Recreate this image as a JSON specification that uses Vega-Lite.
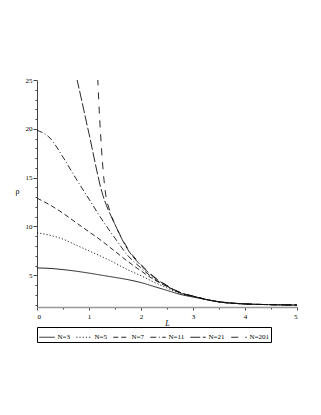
{
  "$schema": "https://vega.github.io/schema/vega-lite/v6.json",
  "autosize": {"type": "none"},
  "padding": {"left": 37, "top": 80, "right": 24, "bottom": 108},
  "width": 260,
  "height": 227,
  "background": "white",
  "config": {
    "view": {"stroke": null},
    "font": "Liberation Serif"
  },
  "data": {
    "values": [
      {"N": "N=3", "L": 0, "rho": 5.75},
      {"N": "N=3", "L": 0.25, "rho": 5.7},
      {"N": "N=3", "L": 0.5, "rho": 5.58},
      {"N": "N=3", "L": 0.75, "rho": 5.42},
      {"N": "N=3", "L": 1, "rho": 5.22},
      {"N": "N=3", "L": 1.25, "rho": 5.0},
      {"N": "N=3", "L": 1.5, "rho": 4.78},
      {"N": "N=3", "L": 1.75, "rho": 4.55},
      {"N": "N=3", "L": 2, "rho": 4.25},
      {"N": "N=3", "L": 2.25, "rho": 3.85},
      {"N": "N=3", "L": 2.5, "rho": 3.45},
      {"N": "N=3", "L": 2.75, "rho": 3.05},
      {"N": "N=3", "L": 3, "rho": 2.77},
      {"N": "N=3", "L": 3.5, "rho": 2.3},
      {"N": "N=3", "L": 4, "rho": 2.07},
      {"N": "N=3", "L": 4.5, "rho": 1.99},
      {"N": "N=3", "L": 5, "rho": 1.95},

      {"N": "N=5", "L": 0, "rho": 9.35},
      {"N": "N=5", "L": 0.25, "rho": 9.1},
      {"N": "N=5", "L": 0.5, "rho": 8.7},
      {"N": "N=5", "L": 0.75, "rho": 8.1},
      {"N": "N=5", "L": 1, "rho": 7.5},
      {"N": "N=5", "L": 1.25, "rho": 6.9},
      {"N": "N=5", "L": 1.5, "rho": 6.25},
      {"N": "N=5", "L": 1.75, "rho": 5.55},
      {"N": "N=5", "L": 2, "rho": 4.95},
      {"N": "N=5", "L": 2.25, "rho": 4.3},
      {"N": "N=5", "L": 2.5, "rho": 3.7},
      {"N": "N=5", "L": 2.75, "rho": 3.15},
      {"N": "N=5", "L": 3, "rho": 2.82},
      {"N": "N=5", "L": 3.5, "rho": 2.28},
      {"N": "N=5", "L": 4, "rho": 2.07},
      {"N": "N=5", "L": 4.5, "rho": 1.99},
      {"N": "N=5", "L": 5, "rho": 1.95},

      {"N": "N=7", "L": 0, "rho": 12.9},
      {"N": "N=7", "L": 0.25, "rho": 12.2},
      {"N": "N=7", "L": 0.5, "rho": 11.35},
      {"N": "N=7", "L": 0.75, "rho": 10.4},
      {"N": "N=7", "L": 1, "rho": 9.45},
      {"N": "N=7", "L": 1.25, "rho": 8.5},
      {"N": "N=7", "L": 1.5, "rho": 7.45},
      {"N": "N=7", "L": 1.75, "rho": 6.4},
      {"N": "N=7", "L": 2, "rho": 5.45},
      {"N": "N=7", "L": 2.25, "rho": 4.55},
      {"N": "N=7", "L": 2.5, "rho": 3.85},
      {"N": "N=7", "L": 2.75, "rho": 3.2},
      {"N": "N=7", "L": 3, "rho": 2.85},
      {"N": "N=7", "L": 3.5, "rho": 2.27},
      {"N": "N=7", "L": 4, "rho": 2.06},
      {"N": "N=7", "L": 4.5, "rho": 1.99},
      {"N": "N=7", "L": 5, "rho": 1.95},

      {"N": "N=11", "L": 0, "rho": 19.85},
      {"N": "N=11", "L": 0.25, "rho": 19.05},
      {"N": "N=11", "L": 0.5, "rho": 17.1},
      {"N": "N=11", "L": 0.75, "rho": 14.9},
      {"N": "N=11", "L": 1, "rho": 12.8},
      {"N": "N=11", "L": 1.25, "rho": 10.7},
      {"N": "N=11", "L": 1.5, "rho": 8.8},
      {"N": "N=11", "L": 1.75, "rho": 7.0},
      {"N": "N=11", "L": 2, "rho": 5.75},
      {"N": "N=11", "L": 2.25, "rho": 4.65},
      {"N": "N=11", "L": 2.5, "rho": 3.88},
      {"N": "N=11", "L": 2.75, "rho": 3.22},
      {"N": "N=11", "L": 3, "rho": 2.86},
      {"N": "N=11", "L": 3.5, "rho": 2.27},
      {"N": "N=11", "L": 4, "rho": 2.06},
      {"N": "N=11", "L": 4.5, "rho": 1.99},
      {"N": "N=11", "L": 5, "rho": 1.95},

      {"N": "N=21", "L": 0, "rho": 37},
      {"N": "N=21", "L": 0.25, "rho": 35.5},
      {"N": "N=21", "L": 0.5, "rho": 31},
      {"N": "N=21", "L": 0.75, "rho": 25.5},
      {"N": "N=21", "L": 1, "rho": 19.5},
      {"N": "N=21", "L": 1.25, "rho": 13.5},
      {"N": "N=21", "L": 1.5, "rho": 10.2},
      {"N": "N=21", "L": 1.75, "rho": 7.6},
      {"N": "N=21", "L": 2, "rho": 6.0},
      {"N": "N=21", "L": 2.25, "rho": 4.8},
      {"N": "N=21", "L": 2.5, "rho": 3.92},
      {"N": "N=21", "L": 2.75, "rho": 3.23},
      {"N": "N=21", "L": 3, "rho": 2.86},
      {"N": "N=21", "L": 3.5, "rho": 2.27},
      {"N": "N=21", "L": 4, "rho": 2.06},
      {"N": "N=21", "L": 4.5, "rho": 1.99},
      {"N": "N=21", "L": 5, "rho": 1.95},

      {"N": "N=201", "L": 0, "rho": 352},
      {"N": "N=201", "L": 0.5, "rho": 300},
      {"N": "N=201", "L": 0.9, "rho": 120},
      {"N": "N=201", "L": 1.0, "rho": 70},
      {"N": "N=201", "L": 1.05, "rho": 50},
      {"N": "N=201", "L": 1.1, "rho": 36},
      {"N": "N=201", "L": 1.17, "rho": 25},
      {"N": "N=201", "L": 1.24, "rho": 18},
      {"N": "N=201", "L": 1.31, "rho": 13.7},
      {"N": "N=201", "L": 1.4, "rho": 11.6},
      {"N": "N=201", "L": 1.5, "rho": 10.2},
      {"N": "N=201", "L": 1.6, "rho": 9.1},
      {"N": "N=201", "L": 1.75, "rho": 7.7},
      {"N": "N=201", "L": 2, "rho": 6.1},
      {"N": "N=201", "L": 2.25, "rho": 4.85},
      {"N": "N=201", "L": 2.5, "rho": 3.95},
      {"N": "N=201", "L": 2.75, "rho": 3.25},
      {"N": "N=201", "L": 3, "rho": 2.87},
      {"N": "N=201", "L": 3.5, "rho": 2.27},
      {"N": "N=201", "L": 4, "rho": 2.06},
      {"N": "N=201", "L": 4.5, "rho": 1.99},
      {"N": "N=201", "L": 5, "rho": 1.95}
    ]
  },
  "mark": {"type": "line", "interpolate": "monotone", "clip": true, "strokeWidth": 0.9, "color": "#111"},
  "encoding": {
    "x": {
      "field": "L", "type": "quantitative",
      "scale": {"domain": [0, 5], "nice": false, "zero": false},
      "axis": {
        "title": "L", "titleFont": "Liberation Serif", "titleFontStyle": "italic", "titleFontWeight": "normal",
        "titleFontSize": 8, "titlePadding": 0, "titleColor": "#000",
        "values": [0, 0.5, 1, 1.5, 2, 2.5, 3, 3.5, 4, 4.5, 5],
        "labelExpr": "datum.value % 1 == 0 ? format(datum.value, 'd') : ''",
        "labelFont": "Liberation Serif", "labelFontSize": 7, "labelColor": "#000", "labelPadding": 2,
        "grid": false, "domainColor": "#999", "domainWidth": 1.5,
        "tickColor": "#444", "tickSize": {"condition": {"test": "datum.value % 1 == 0", "value": 3}, "value": 2}
      }
    },
    "y": {
      "field": "rho", "type": "quantitative",
      "scale": {"domain": [1.75, 25], "nice": false, "zero": false},
      "axis": {
        "title": "ρ", "titleFont": "Liberation Serif", "titleFontWeight": "normal", "titleFontSize": 8,
        "titleAngle": 0, "titleColor": "#000", "titleX": -20, "titleY": 115, "titleAlign": "center",
        "values": [2, 3, 4, 5, 6, 7, 8, 9, 10, 11, 12, 13, 14, 15, 16, 17, 18, 19, 20, 21, 22, 23, 24, 25],
        "labelExpr": "datum.value % 5 == 0 ? datum.label : ''",
        "labelFont": "Liberation Serif", "labelFontSize": 7, "labelColor": "#000", "labelPadding": 1,
        "grid": false, "domainColor": "#444", "domainWidth": 1,
        "tickColor": "#444", "tickSize": {"condition": {"test": "datum.value % 5 == 0", "value": 4}, "value": 2}
      }
    },
    "strokeDash": {
      "field": "N", "type": "nominal",
      "scale": {
        "domain": ["N=3", "N=5", "N=7", "N=11", "N=21", "N=201"],
        "range": [[1, 0], [1.2, 2], [5, 3], [6, 2.5, 1, 2.5], [10, 2.5], [7, 7]]
      },
      "legend": {
        "title": null, "orient": "bottom", "direction": "horizontal", "offset": 0,
        "symbolType": "stroke", "symbolSize": 240, "symbolStrokeWidth": 0.9, "symbolStrokeColor": "#111",
        "labelFont": "Liberation Serif", "labelFontSize": 7, "labelColor": "#000", "labelOffset": 2,
        "columnPadding": 3, "strokeColor": "#000", "fillColor": "white", "padding": 1.5
      }
    }
  }
}
